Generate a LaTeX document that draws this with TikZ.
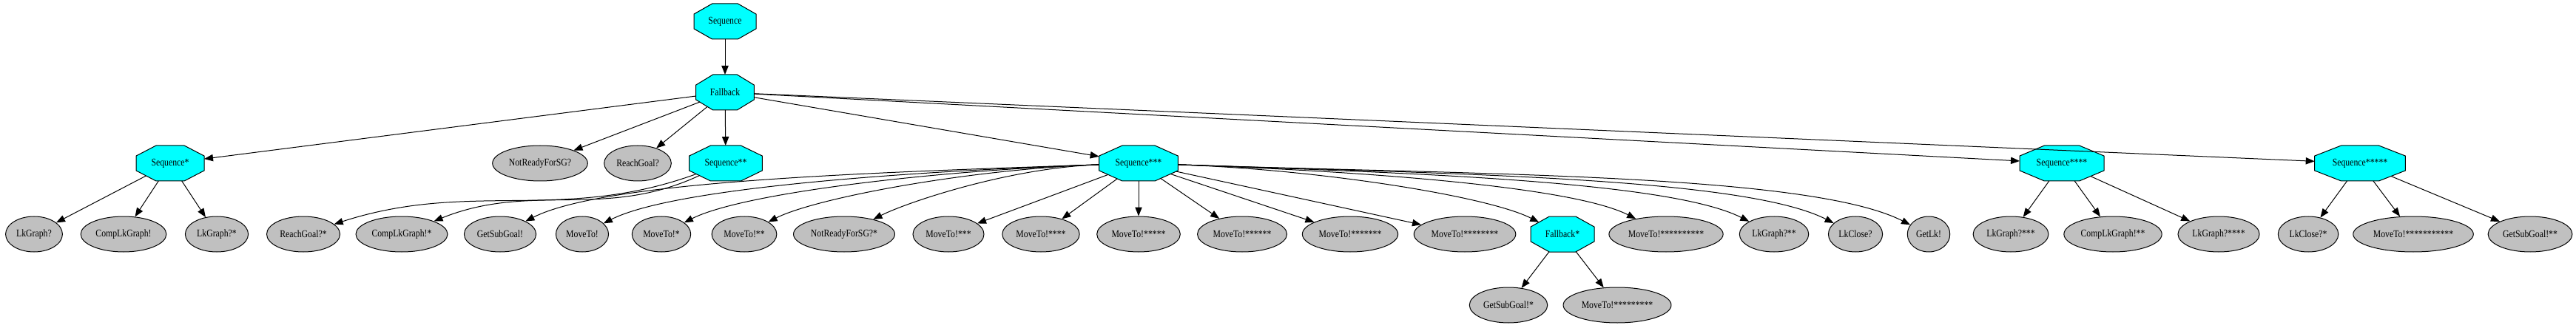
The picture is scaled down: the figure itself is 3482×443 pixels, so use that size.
\documentclass[tikz,border=0pt]{standalone}
\usepackage{fontspec}
\setmainfont{Liberation Serif}[FakeStretch=0.84]
\usepackage{tikz}
\usetikzlibrary{arrows.meta,shapes.geometric}

\definecolor{leafgray}{HTML}{C0C0C0}
\definecolor{octcyan}{HTML}{00FFFF}

\makeatletter
\pgfdeclareshape{gvoctagon}{%
  \inheritsavedanchors[from=rectangle]%
  \inheritanchor[from=rectangle]{center}%
  \inheritanchor[from=rectangle]{north}%
  \inheritanchor[from=rectangle]{south}%
  \inheritanchor[from=rectangle]{east}%
  \inheritanchor[from=rectangle]{west}%
  \inheritanchor[from=rectangle]{text}%
  \inheritanchor[from=rectangle]{base}%
  \inheritanchor[from=rectangle]{mid}%
  \anchorborder{%
    \edef\octdx{\pgf@sys@tonumber\pgf@x}%
    \edef\octdy{\pgf@sys@tonumber\pgf@y}%
    \southwest
    \edef\octswx{\pgf@sys@tonumber\pgf@x}%
    \edef\octswy{\pgf@sys@tonumber\pgf@y}%
    \northeast
    \edef\octnex{\pgf@sys@tonumber\pgf@x}%
    \edef\octney{\pgf@sys@tonumber\pgf@y}%
    \pgfmathsetmacro\octa{(\octnex-\octswx)/2}%
    \pgfmathsetmacro\octb{(\octney-\octswy)/2}%
    \pgfmathsetmacro\octu{abs(\octdx)/\octa}%
    \pgfmathsetmacro\octv{abs(\octdy)/\octb}%
    \pgfmathsetmacro\octt{1/max(\octu,\octv,0.7071*(\octu+\octv))}%
    \pgfmathsetlength\pgf@x{\octswx+\octa+\octt*\octdx}%
    \pgfmathsetlength\pgf@y{\octswy+\octb+\octt*\octdy}%
  }%
  \backgroundpath{%
    \southwest \pgf@xa=\pgf@x \pgf@ya=\pgf@y
    \northeast \pgf@xb=\pgf@x \pgf@yb=\pgf@y
    \pgf@xc=\pgf@xb \advance\pgf@xc by-\pgf@xa \pgf@xc=0.293\pgf@xc
    \pgf@yc=\pgf@yb \advance\pgf@yc by-\pgf@ya \pgf@yc=0.293\pgf@yc
    \edef\octxa{\the\pgf@xa}\edef\octya{\the\pgf@ya}%
    \edef\octxb{\the\pgf@xb}\edef\octyb{\the\pgf@yb}%
    \advance\pgf@xa by\pgf@xc \advance\pgf@xb by-\pgf@xc
    \advance\pgf@ya by\pgf@yc \advance\pgf@yb by-\pgf@yc
    \edef\octxc{\the\pgf@xa}\edef\octxd{\the\pgf@xb}%
    \edef\octyc{\the\pgf@ya}\edef\octyd{\the\pgf@yb}%
    \pgfpathmoveto{\pgfqpoint{\octxc}{\octya}}%
    \pgfpathlineto{\pgfqpoint{\octxd}{\octya}}%
    \pgfpathlineto{\pgfqpoint{\octxb}{\octyc}}%
    \pgfpathlineto{\pgfqpoint{\octxb}{\octyd}}%
    \pgfpathlineto{\pgfqpoint{\octxd}{\octyb}}%
    \pgfpathlineto{\pgfqpoint{\octxc}{\octyb}}%
    \pgfpathlineto{\pgfqpoint{\octxa}{\octyd}}%
    \pgfpathlineto{\pgfqpoint{\octxa}{\octyc}}%
    \pgfpathclose
  }%
}
\makeatother

\begin{document}
\begin{tikzpicture}[
    x=0.75pt, y=0.75pt,
    font=\fontsize{10.5}{12}\selectfont,
    oct/.style={
        shape=gvoctagon,
        draw,
        fill=octcyan,
        line width=0.75pt,
        minimum width=#1,
        minimum height=36pt,
        inner sep=0pt,
        outer sep=0pt
    },
    leaf/.style={
        ellipse,
        draw,
        fill=leafgray,
        line width=0.75pt,
        minimum height=36pt,
        inner xsep=2.5pt
    },
    arrow/.style={-{Triangle[length=9pt,width=7pt]}, line width=0.75pt},
    fanleft/.style={out=182, in=27, out looseness=1, in looseness=0.4},
    fanright/.style={out=-2, in=153, out looseness=1, in looseness=0.4}
]

\useasboundingbox (0,0) rectangle (3482,443);

\node[oct=63pt] (seq) at (980,414) {Sequence};
\node[oct=59pt] (fb) at (980,318) {Fallback};

\node[oct=69pt] (seqA) at (230,222) {Sequence*};
\node[leaf] (nrsg) at (730,222) {NotReadyForSG?};
\node[leaf] (rg) at (862,222) {ReachGoal?};
\node[oct=74pt] (seqB) at (981,222) {Sequence**};
\node[oct=80pt] (seqC) at (1539,222) {Sequence***};
\node[oct=85.5pt] (seqD) at (2787,222) {Sequence****};
\node[oct=92pt] (seqE) at (3190,222) {Sequence*****};

\node[leaf] (lkg) at (46,126) {LkGraph?};
\node[leaf] (clg) at (167,126) {CompLkGraph!};
\node[leaf] (lkgA) at (293,126) {LkGraph?*};
\node[leaf] (rgA) at (410,126) {ReachGoal?*};
\node[leaf] (clgA) at (543,126) {CompLkGraph!*};
\node[leaf] (gsg) at (676,126) {GetSubGoal!};
\node[leaf] (mv) at (787,126) {MoveTo!};
\node[leaf] (mvA) at (894,126) {MoveTo!*};
\node[leaf] (mvB) at (1006,126) {MoveTo!**};
\node[leaf] (nrsgA) at (1141,126) {NotReadyForSG?*};
\node[leaf] (mvC) at (1282,126) {MoveTo!***};
\node[leaf] (mvD) at (1407,126) {MoveTo!****};
\node[leaf] (mvE) at (1539,126) {MoveTo!*****};
\node[leaf] (mvF) at (1679,126) {MoveTo!******};
\node[leaf] (mvG) at (1825,126) {MoveTo!*******};
\node[leaf] (mvH) at (1980,126) {MoveTo!********};
\node[oct=64.5pt] (fbA) at (2112,126) {Fallback*};
\node[leaf] (mvJ) at (2252,126) {MoveTo!**********};
\node[leaf] (lkgB) at (2398,126) {LkGraph?**};
\node[leaf] (lkc) at (2508,126) {LkClose?};
\node[leaf] (glk) at (2607,126) {GetLk!};
\node[leaf] (lkgC) at (2718,126) {LkGraph?***};
\node[leaf] (clgB) at (2856,126) {CompLkGraph!**};
\node[leaf] (lkgD) at (2999,126) {LkGraph?****};
\node[leaf] (lkcA) at (3120,126) {LkClose?*};
\node[leaf] (mvK) at (3262,126) {MoveTo!***********};
\node[leaf] (gsgB) at (3420,126) {GetSubGoal!**};

\node[leaf] (gsgA) at (2039,30) {GetSubGoal!*};
\node[leaf] (mvI) at (2186,30) {MoveTo!*********};

\draw[arrow] (seq) -- (fb);

\draw[arrow] (fb) -- (seqA);
\draw[arrow] (fb) -- (nrsg);
\draw[arrow] (fb) -- (rg);
\draw[arrow] (fb) -- (seqB);
\draw[arrow] (fb) -- (seqC);
\draw[arrow] (fb) -- (seqD);
\draw[arrow] (fb) -- (seqE);

\draw[arrow] (seqA) -- (lkg);
\draw[arrow] (seqA) -- (clg);
\draw[arrow] (seqA) -- (lkgA);

\draw[arrow] (seqB) to[out=200, in=18] (rgA);
\draw[arrow] (seqB) to[out=205, in=22] (clgA);

\draw[arrow] (seqC) to[fanleft] (gsg);
\draw[arrow] (seqC) to[fanleft] (mv);
\draw[arrow] (seqC) to[fanleft] (mvA);
\draw[arrow] (seqC) to[fanleft] (mvB);
\draw[arrow] (seqC) to[fanleft] (nrsgA);
\draw[arrow] (seqC) -- (mvC);
\draw[arrow] (seqC) -- (mvD);
\draw[arrow] (seqC) -- (mvE);
\draw[arrow] (seqC) -- (mvF);
\draw[arrow] (seqC) -- (mvG);
\draw[arrow] (seqC) -- (mvH);
\draw[arrow] (seqC) to[fanright] (fbA);
\draw[arrow] (seqC) to[fanright] (mvJ);
\draw[arrow] (seqC) to[fanright] (lkgB);
\draw[arrow] (seqC) to[fanright] (lkc);
\draw[arrow] (seqC) to[fanright] (glk);

\draw[arrow] (fbA) -- (gsgA);
\draw[arrow] (fbA) -- (mvI);

\draw[arrow] (seqD) -- (lkgC);
\draw[arrow] (seqD) -- (clgB);
\draw[arrow] (seqD) -- (lkgD);

\draw[arrow] (seqE) -- (lkcA);
\draw[arrow] (seqE) -- (mvK);
\draw[arrow] (seqE) -- (gsgB);

\end{tikzpicture}
\end{document}
